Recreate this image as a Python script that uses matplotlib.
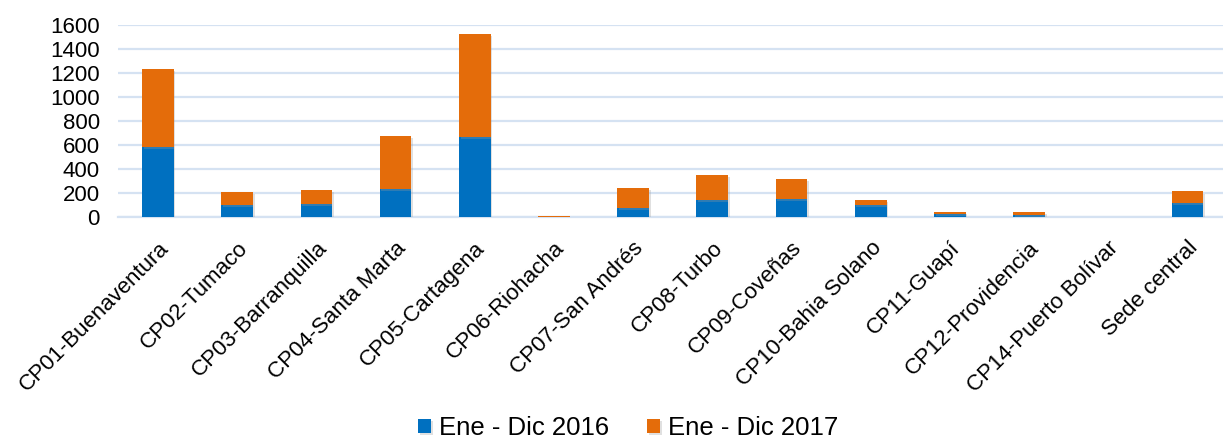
#!/usr/bin/env python3
"""Stacked bars per station, Ene-Dic 2016 vs Ene-Dic 2017."""

import matplotlib

matplotlib.use("Agg")
import matplotlib.pyplot as plt
import matplotlib.patheffects as pe
import numpy as np

STATIONS = [
    "CP01-Buenaventura",
    "CP02-Tumaco",
    "CP03-Barranquilla",
    "CP04-Santa Marta",
    "CP05-Cartagena",
    "CP06-Riohacha",
    "CP07-San Andrés",
    "CP08-Turbo",
    "CP09-Coveñas",
    "CP10-Bahia Solano",
    "CP11-Guapí",
    "CP12-Providencia",
    "CP14-Puerto Bolívar",
    "Sede central",
]
VALUES_2016 = [580, 97, 108, 233, 667, 0, 75, 142, 145, 100, 20, 12, 0, 114]
VALUES_2017 = [653, 109, 114, 439, 853, 3, 167, 203, 169, 39, 18, 26, 0, 96]
SERIES_LABELS = ["Ene - Dic 2016", "Ene - Dic 2017"]
Y_TICKS = [0, 200, 400, 600, 800, 1000, 1200, 1400, 1600]

BLUE = "#0070C0"
ORANGE = "#E46C0A"
GRID = "#D5E2F2"

plt.rcParams["font.family"] = ["Liberation Sans", "DejaVu Sans"]

fig = plt.figure(figsize=(12.23, 4.40), dpi=100)
ax = fig.add_axes([118.4 / 1223, 1 - 216.7 / 440, 1108.6 / 1223, 192 / 440])

x = np.arange(len(STATIONS))
v16 = np.asarray(VALUES_2016, dtype=float)
v17 = np.asarray(VALUES_2017, dtype=float)
shadow = [pe.SimplePatchShadow(offset=(1.2, -1.5), shadow_rgbFace="#9a9a9a", alpha=0.3), pe.Normal()]
b1 = ax.bar(x, v16, width=0.40, color=BLUE, label=SERIES_LABELS[0], zorder=3)
b2 = ax.bar(x, v17, width=0.40, bottom=v16, color=ORANGE, label=SERIES_LABELS[1], zorder=3)
for bar in list(b1) + list(b2):
    if bar.get_height() > 0:
        bar.set_path_effects(shadow)

ax.set_xlim(-0.5, 13.5)
ax.set_ylim(0, 1600)
ax.set_yticks(Y_TICKS)
ax.set_yticklabels([str(t) for t in Y_TICKS], fontsize=16)
ax.yaxis.grid(True, color=GRID, linewidth=1.6, zorder=0)
ax.set_axisbelow(True)
for side in ("top", "right", "left"):
    ax.spines[side].set_visible(False)
ax.spines["bottom"].set_color(GRID)
ax.spines["bottom"].set_linewidth(1.6)
ax.tick_params(axis="y", length=0, pad=13.5)
ax.tick_params(axis="x", length=0, pad=15)

ax.set_xticks(x)
ax.set_xticklabels(STATIONS, rotation=45, ha="right", va="top", rotation_mode="anchor", fontsize=16)

fig.legend(
    handles=[b1, b2],
    labels=SERIES_LABELS,
    loc="center",
    bbox_to_anchor=(0.5135, 1 - 428 / 440),
    ncol=2,
    frameon=False,
    fontsize=18.5,
    handlelength=0.5,
    handleheight=0.5,
    handletextpad=0.3,
    columnspacing=1.5,
)

fig.savefig("out.png", dpi=100)
